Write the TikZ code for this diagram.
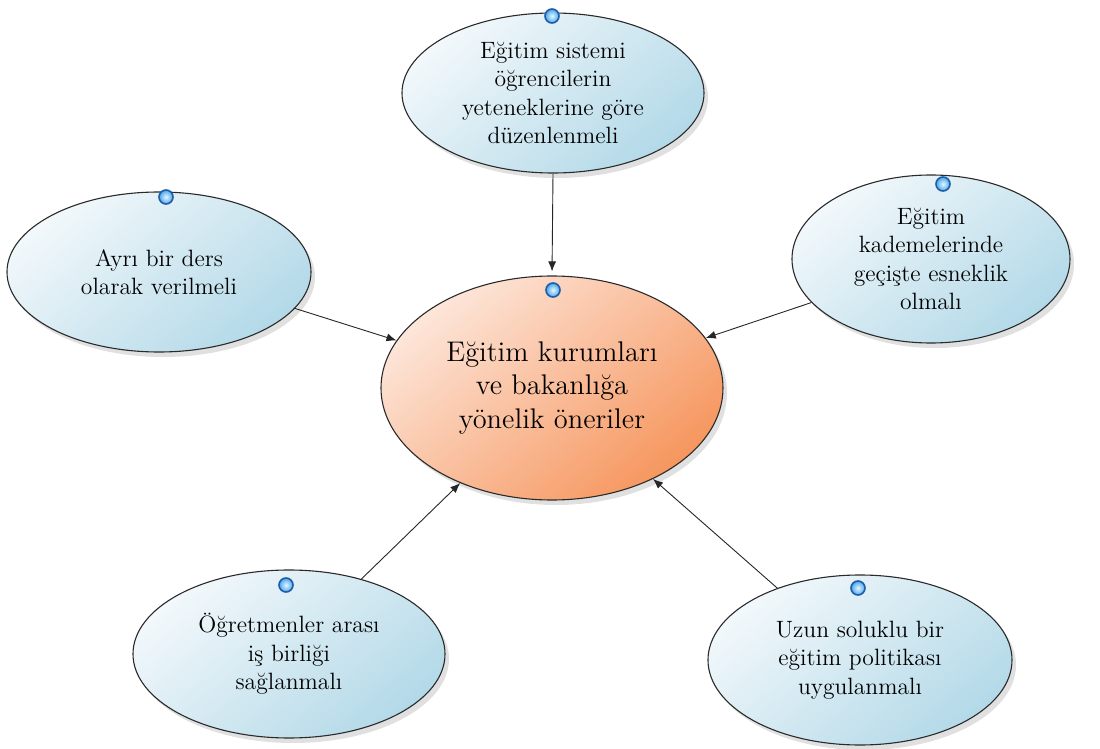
\documentclass[tikz,border=0pt]{standalone}
\usetikzlibrary{shapes.geometric,arrows.meta,shadows}

\definecolor{idealight}{HTML}{F2F8FB}
\definecolor{ideadark}{HTML}{B3D9E8}
\definecolor{corelight}{HTML}{FDE6DA}
\definecolor{coredark}{HTML}{F6965E}
\definecolor{outline}{HTML}{2A2A2A}
\definecolor{pinlight}{HTML}{E4F6FF}
\definecolor{pinmid}{HTML}{4AA6EC}
\definecolor{pinrim}{HTML}{1E5DA8}

\tikzset{
  bubble/.style={ellipse, draw=outline, line width=0.55pt, inner sep=0pt,
    align=center, font=\rmfamily\fontsize{11.8}{14.2}\selectfont,
    top color=idealight, bottom color=ideadark, shading angle=40,
    drop shadow={shadow xshift=2pt, shadow yshift=-2.5pt, opacity=0.12, fill=black}},
  core/.style={bubble, font=\rmfamily\fontsize{14.2}{16.6}\selectfont,
    top color=corelight, bottom color=coredark, shading angle=40},
  pin/.style={circle, minimum size=7pt, inner sep=0pt, draw=pinrim,
    line width=0.8pt, inner color=pinlight, outer color=pinmid},
  link/.style={line width=0.45pt, draw=black!85,
    -{Latex[length=5pt, width=4pt]}}
}

\begin{document}
\begin{tikzpicture}[x=0.5pt, y=-0.5pt]
  \useasboundingbox (0,0) rectangle (1100,749);

  % central topic
  \node[core, minimum width=171pt, minimum height=112pt] (core) at (552,388)
    {Eğitim kurumları\\ve bakanlığa\\yönelik öneriler};

  % surrounding suggestions
  \node[bubble, minimum width=151pt, minimum height=80pt] (top) at (553,93)
    {Eğitim sistemi\\öğrencilerin\\yeteneklerine göre\\düzenlenmeli};
  \node[bubble, minimum width=152pt, minimum height=80pt] (left) at (159,272)
    {Ayrı bir ders\\olarak verilmeli};
  \node[bubble, minimum width=139pt, minimum height=84pt] (right) at (931,259)
    {Eğitim\\kademelerinde\\geçişte esneklik\\olmalı};
  \node[bubble, minimum width=156pt, minimum height=84pt] (bleft) at (289,654)
    {Öğretmenler arası\\iş birliği\\sağlanmalı};
  \node[bubble, minimum width=152pt, minimum height=85pt] (bright) at (860,660)
    {Uzun soluklu bir\\eğitim politikası\\uygulanmalı};

  % small marker balls
  \node[pin] (pcore) at (553,290) {};
  \node[pin] (ptop) at (552,16) {};
  \node[pin] (pleft) at (166,197) {};
  \node[pin] (pright) at (943,184) {};
  \node[pin] (pbleft) at (286,585) {};
  \node[pin] (pbright) at (858,588) {};

  % connectors into the central topic
  \draw[link, shorten >=2pt] (top.south) -- (core.north);
  \draw[link] (left.-15) -- (core.163);
  \draw[link] (right.-160) -- (core.18);
  \draw[link] (bleft.46) -- (core.-134);
  \draw[link] (bright.139) -- (core.-42);
\end{tikzpicture}
\end{document}
